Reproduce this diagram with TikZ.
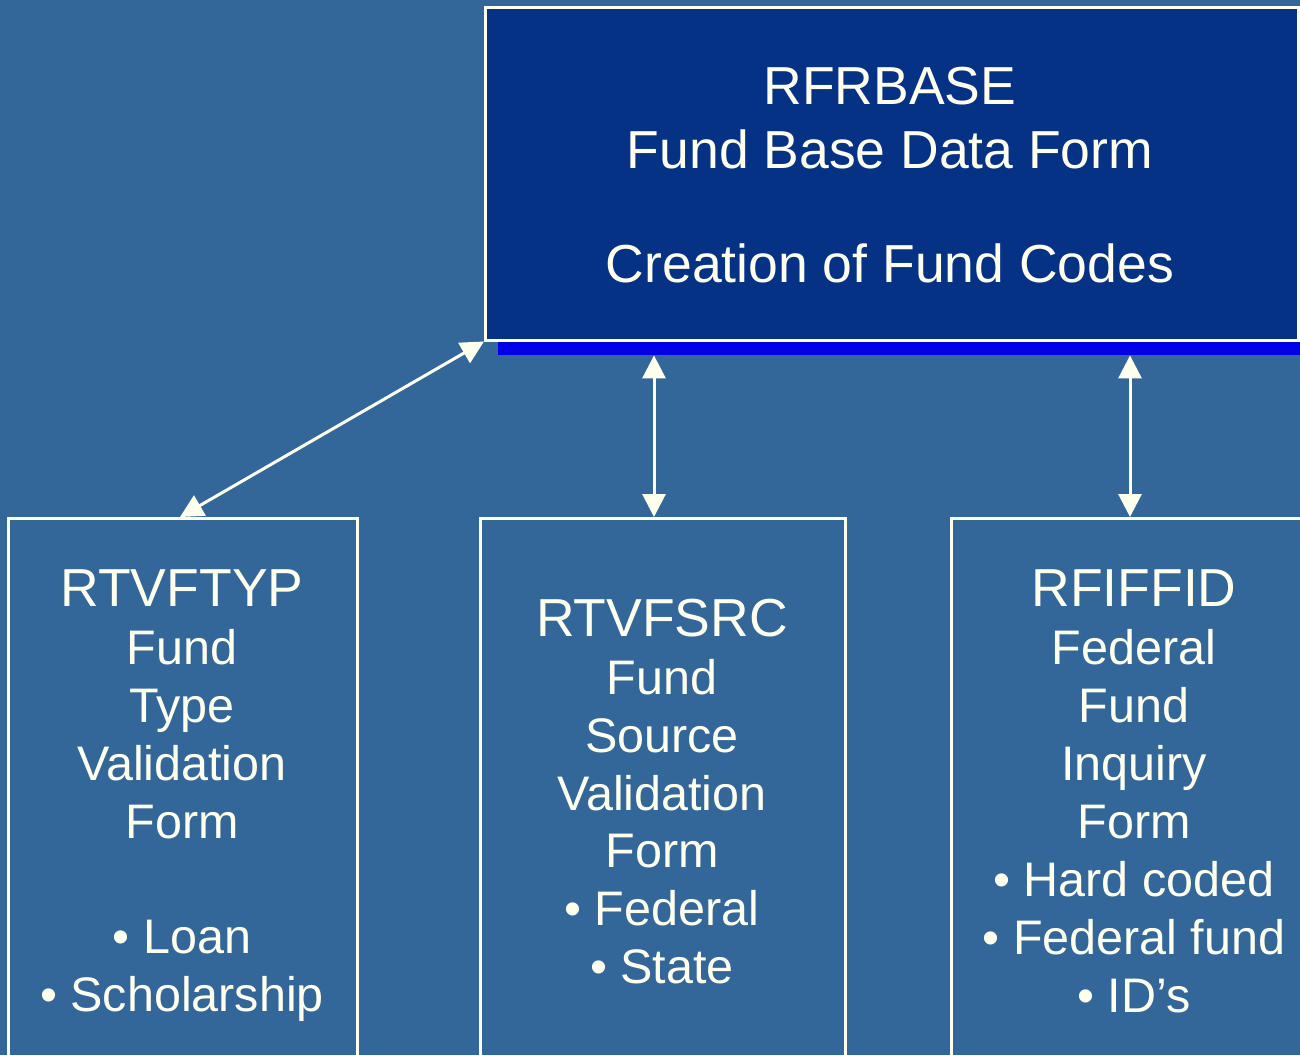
\documentclass[tikz,border=0pt]{standalone}
\usepackage{fontspec}
\setmainfont{Liberation Sans}
\usetikzlibrary{arrows.meta}
\definecolor{bgc}{RGB}{51,102,153}
\definecolor{topfill}{RGB}{6,50,134}
\definecolor{shadowc}{RGB}{0,0,230}
\definecolor{cream}{RGB}{255,255,238}
\tikzset{
  boxstyle/.style={draw=cream, line width=2.5pt, anchor=north west, inner sep=0pt},
  ttl/.style={text=cream, anchor=base, inner sep=0pt, font=\fontsize{53.5}{60}\selectfont},
  txt/.style={text=cream, anchor=base, inner sep=0pt, font=\fontsize{48.5}{56}\selectfont},
  arr/.style={draw=cream, line width=3pt, {Triangle[width=23pt,length=23pt]}-{Triangle[width=23pt,length=23pt]}}
}
\begin{document}
\begin{tikzpicture}[x=1pt,y=-1pt]
\useasboundingbox (0,0) rectangle (1300,1055);
\clip (0,0) rectangle (1300,1055);
\fill[bgc] (0,0) rectangle (1300,1055);
% top box with shadow
\node[anchor=north west, fill=shadowc, inner sep=0pt, minimum width=820pt, minimum height=335pt] (sh) at (498,20) {};
\node[boxstyle, fill=topfill, minimum width=813pt, minimum height=333pt] (top) at (484,6) {};
\node[ttl] (t1) at (890,104) {RFRBASE};
\node[ttl] (t2) at (890,168) {Fund Base Data Form};
\node[ttl] (t3) at (890,282) {Creation of Fund Codes};
% bottom boxes
\node[boxstyle, minimum width=349pt, minimum height=560pt] (b1) at (7,517) {};
\node[boxstyle, minimum width=365pt, minimum height=560pt] (b2) at (479,517) {};
\node[boxstyle, minimum width=366pt, minimum height=560pt] (b3) at (950,517) {};
% box 1 text
\node[ttl] (a1) at (182,606) {RTVFTYP};
\node[txt] (a2) at (182,664) {Fund};
\node[txt] (a3) at (182,722) {Type};
\node[txt] (a4) at (182,780) {Validation};
\node[txt] (a5) at (182,838) {Form};
\node[txt] (a6) at (182,953) {• Loan};
\node[txt] (a7) at (182,1011) {• Scholarship};
% box 2 text
\node[ttl] (c1) at (662,636) {RTVFSRC};
\node[txt] (c2) at (662,694) {Fund};
\node[txt] (c3) at (662,752) {Source};
\node[txt] (c4) at (662,810) {Validation};
\node[txt] (c5) at (662,867) {Form};
\node[txt] (c6) at (662,925) {• Federal};
\node[txt] (c7) at (662,983) {• State};
% box 3 text
\node[ttl] (d1) at (1134,606) {RFIFFID};
\node[txt] (d2) at (1134,664) {Federal};
\node[txt] (d3) at (1134,722) {Fund};
\node[txt] (d4) at (1134,780) {Inquiry};
\node[txt] (d5) at (1134,838) {Form};
\node[txt] (d6) at (1134,896) {• Hard coded};
\node[txt] (d7) at (1134,954) {• Federal fund};
\node[txt] (d8) at (1134,1012) {• ID’s};
% connectors
\coordinate (mx) at (654,0);
\coordinate (rx) at (1130,0);
\draw[arr] (top.south west) -- ([xshift=173pt]b1.north west);
\draw[arr] (sh.south -| mx) -- (b2.north -| mx);
\draw[arr] (sh.south -| rx) -- (b3.north -| rx);
\end{tikzpicture}
\end{document}
